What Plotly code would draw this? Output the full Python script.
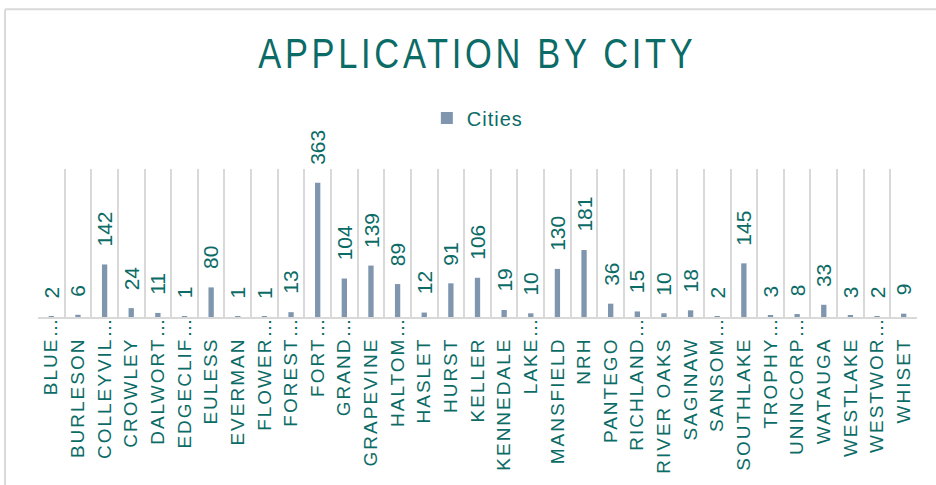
import plotly.graph_objects as go

cities = ["BLUE…", "BURLESON", "COLLEYVIL…", "CROWLEY", "DALWORT…", "EDGECLIF…",
          "EULESS", "EVERMAN", "FLOWER…", "FOREST…", "FORT…", "GRAND…", "GRAPEVINE",
          "HALTOM…", "HASLET", "HURST", "KELLER", "KENNEDALE", "LAKE…", "MANSFIELD",
          "NRH", "PANTEGO", "RICHLAND…", "RIVER OAKS", "SAGINAW", "SANSOM…",
          "SOUTHLAKE", "TROPHY…", "UNINCORP…", "WATAUGA", "WESTLAKE", "WESTWOR…", "WHISET"]
applications = [2, 6, 142, 24, 11, 1, 80, 1, 1, 13, 363, 104, 139, 89, 12, 91, 106,
                19, 10, 130, 181, 36, 15, 10, 18, 2, 145, 3, 8, 33, 3, 2, 9]

TEAL = "#0B6B66"
BAR = "#7F96AE"
GRID = "#D9D9D9"

# Excel reserves room for the ellipsis: untruncated names start one em lower
tick_text = [c if c.endswith("…") else c + "\u2003" for c in cities]

fig = go.Figure()
fig.add_trace(go.Bar(x=cities, y=applications, name="Cities", width=0.2,
                     marker=dict(color=BAR, line=dict(width=0))))

for c, v in zip(cities, applications):
    fig.add_annotation(x=c, y=v, text=str(v), textangle=-90, showarrow=False,
                       xanchor="center", yanchor="bottom", yshift=16,
                       font=dict(family="Liberation Sans, Arial", size=21, color=TEAL))

fig.update_layout(
    width=936, height=485,
    margin=dict(l=38, r=19, t=169, b=168),
    paper_bgcolor="white", plot_bgcolor="white",
    title=dict(text="APPLICATION BY CITY", x=0.51, y=0.89, xanchor="center", yanchor="middle",
               font=dict(family="Liberation Sans, Arial", size=42, color=TEAL)),
    showlegend=True,
    legend=dict(orientation="h", x=0.497, y=1.345, xanchor="center", yanchor="middle",
                font=dict(family="Liberation Sans, Arial", size=20, color=TEAL),
                bgcolor="rgba(0,0,0,0)"),
    xaxis=dict(type="category", tickson="boundaries", showgrid=True, gridcolor=GRID, gridwidth=2,
               showline=True, linecolor=GRID, linewidth=2, ticks="", tickangle=-90,
               tickmode="array", tickvals=cities, ticktext=tick_text,
               tickfont=dict(family="Liberation Sans, Arial", size=19, color=TEAL),
               range=[-0.5, len(cities) - 0.5]),
    yaxis=dict(range=[0, 400], visible=False, showgrid=False),
    shapes=[
        dict(type="line", xref="paper", yref="paper", x0=-0.0375, x1=-0.0375, y0=-3, y1=2.08,
             line=dict(color=GRID, width=2)),
        dict(type="line", xref="paper", yref="paper", x0=-0.0375, x1=1.2, y0=2.08, y1=2.08,
             line=dict(color=GRID, width=2)),
    ],
)

try:
    fig.update_xaxes(ticklabelstandoff=-10)
except ValueError:
    fig.update_xaxes(ticklabelstandoff=0)

css = """
document.body.style.margin = '0';
var s = document.createElement('style');
s.textContent = '.xtick text { letter-spacing: 2px; } '
  + '.gtitle { letter-spacing: 4.5px; transform: scaleX(0.82); transform-box: fill-box; transform-origin: center; } '
  + '.legendtext { letter-spacing: 1px; }';
document.head.appendChild(s);
"""
fig.write_html("out.html", post_script=css, config={"displayModeBar": False})
